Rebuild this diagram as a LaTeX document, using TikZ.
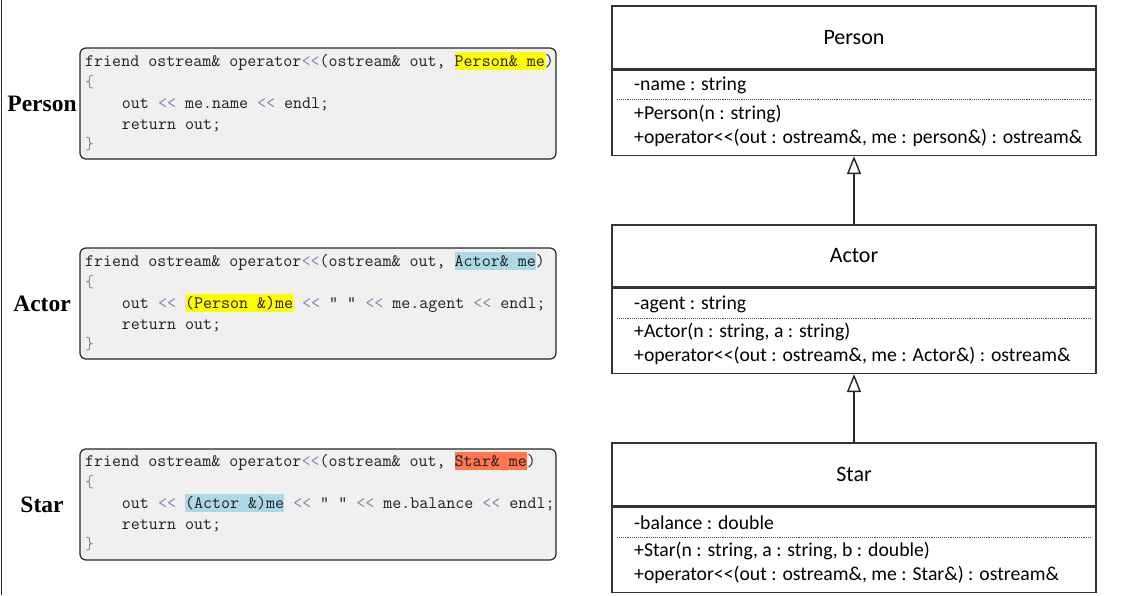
\documentclass[tikz,border=0pt]{standalone}
\usepackage{fontspec}
\newfontfamily\umlfont{Carlito}
\newfontfamily\lblfont{Liberation Serif}
\usetikzlibrary{positioning,arrows.meta}
\definecolor{codebg}{HTML}{F0F0F0}
\definecolor{hlyellow}{HTML}{FFFF00}
\definecolor{hlblue}{HTML}{ADD8E6}
\definecolor{hlorange}{HTML}{FF7750}
\definecolor{opgray}{HTML}{8484A8}
\newcommand{\hl}[2]{{\setlength{\fboxsep}{0pt}\colorbox{#1}{\rule[-4pt]{0pt}{18pt}#2}}}
\newcommand{\op}{\textcolor{opgray}{<<}}
\newcommand{\ind}{\hspace*{2.1em}}

\begin{document}
\begin{tikzpicture}[x=1pt,y=-1pt,
	codebox/.style={draw=black!85,line width=1.2pt,fill=codebg,rounded corners=6pt,minimum width=476pt,minimum height=111pt},
	codeline/.style={anchor=base west,inner sep=0pt,font=\fontsize{17.5}{20}\ttfamily,text=black!88},
	clsname/.style={font=\fontsize{23.5}{28}\lblfont\bfseries},
	umlhead/.style={draw=black!80,line width=1.4pt,minimum width=484pt,minimum height=63pt,font=\fontsize{22}{26}\umlfont},
	umlbody/.style={draw=black!80,line width=1.4pt,minimum width=484pt,minimum height=85pt},
	member/.style={anchor=west,inner sep=0pt,font=\fontsize{19.7}{22}\umlfont},
	sep/.style={densely dotted,black!70,line width=0.9pt},
	inherit/.style={-{Triangle[open,length=18pt,width=14pt]},line width=1.4pt,black!85}]
				\useasboundingbox (0,0) rectangle (1133,595);
				\draw[black!85,line width=1.2pt] (1.5,0) -- (1.5,595);
				% code side
				\node[clsname] (lperson) at (42,104) {Person};
				\node[clsname] (lactor) at (42,304) {Actor};
				\node[clsname] (lstar) at (42,505) {Star};
				\node[codebox] (cperson) at (318,103.5) {};
				\node[codebox] (cactor) at (318,303.5) {};
				\node[codebox] (cstar) at (318,504.5) {};
				\node[codeline] (cperson1) at (85,66) {friend ostream\& operator\op(ostream\& out, \hl{hlyellow}{Person\& me})};
				\node[codeline] (cperson2) at (85,87) {\textcolor{opgray}{\{}};
				\node[codeline] (cperson3) at (85,108) {\ind out \op{} me.name \op{} endl;};
				\node[codeline] (cperson4) at (85,129) {\ind return out;};
				\node[codeline] (cperson5) at (85,149) {\textcolor{opgray}{\}}};
				\node[codeline] (cactor1) at (85,266) {friend ostream\& operator\op(ostream\& out, \hl{hlblue}{Actor\& me})};
				\node[codeline] (cactor2) at (85,287) {\textcolor{opgray}{\{}};
				\node[codeline] (cactor3) at (85,308) {\ind out \op{} \hl{hlyellow}{(Person \&)me} \op{} " " \op{} me.agent \op{} endl;};
				\node[codeline] (cactor4) at (85,329) {\ind return out;};
				\node[codeline] (cactor5) at (85,349) {\textcolor{opgray}{\}}};
				\node[codeline] (cstar1) at (85,466) {friend ostream\& operator\op(ostream\& out, \hl{hlorange}{Star\& me})};
				\node[codeline] (cstar2) at (85,487) {\textcolor{opgray}{\{}};
				\node[codeline] (cstar3) at (85,508) {\ind out \op{} \hl{hlblue}{(Actor \&)me} \op{} " " \op{} me.balance \op{} endl;};
				\node[codeline] (cstar4) at (85,529) {\ind return out;};
				\node[codeline] (cstar5) at (85,549) {\textcolor{opgray}{\}}};
				% uml side
				\node[umlhead] (person) at (854,37.5) {Person};
				\node[umlbody,below=0pt of person] (personbody) {};
				\node[member] (pname) at (634,85.5) {-name : string};
				\draw[sep] (617,99.5) -- (1092,99.5);
				\node[member] (pctor) at (634,113.5) {+Person(n : string)};
				\node[member] (pop) at (634,137.5) {+operator<<(out : ostream\&, me : person\&) : ostream\&};
				\node[umlhead,minimum height=62pt] (actor) at (854,256) {Actor};
				\node[umlbody,below=0pt of actor] (actorbody) {};
				\node[member] (aagent) at (634,304) {-agent : string};
				\draw[sep] (617,318) -- (1092,318);
				\node[member] (actorctor) at (634,332) {+Actor(n : string, a : string)};
				\node[member] (aop) at (634,356) {+operator<<(out : ostream\&, me : Actor\&) : ostream\&};
				\node[umlhead] (star) at (854,474.5) {Star};
				\node[umlbody,below=0pt of star] (starbody) {};
				\node[member] (sbal) at (634,522.5) {-balance : double};
				\draw[sep] (617,537) -- (1092,537);
				\node[member] (sctor) at (634,551) {+Star(n : string, a : string, b : double)};
				\node[member] (sop) at (634,575) {+operator<<(out : ostream\&, me : Star\&) : ostream\&};
				\path[inherit]
				(actor.north) edge (personbody.south)
				(star.north) edge (actorbody.south);
			\end{tikzpicture}
\end{document}
